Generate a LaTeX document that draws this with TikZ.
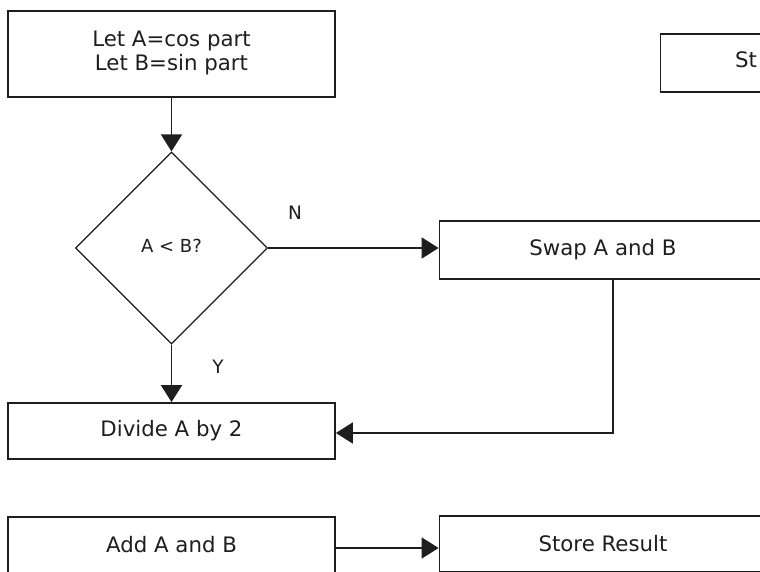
\documentclass[tikz,border=0pt]{standalone}
\usepackage{fontspec}
\setmainfont{DejaVu Sans}
\usetikzlibrary{shapes.geometric,arrows.meta}
\definecolor{ink}{HTML}{1E1E1E}
\tikzset{
  procbox/.style={draw=ink,line width=1.8pt,minimum width=327pt,inner sep=0pt,text=ink,font=\fontsize{21.3}{25}\selectfont,align=center},
  decision/.style={draw=ink,line width=1.2pt,shape=diamond,minimum width=192pt,minimum height=192pt,inner sep=0pt,text=ink,font=\fontsize{18}{20}\selectfont},
  flow/.style={draw=ink,line width=1.8pt,-{Triangle[length=17pt,width=21pt]}},
  lbl/.style={text=ink,font=\fontsize{18.5}{20}\selectfont,inner sep=0pt}
}
\begin{document}
\begin{tikzpicture}[x=1pt,y=-1pt]
\useasboundingbox (0,0) rectangle (760,572);
\clip (0,0) rectangle (760,572);
\fill[white] (0,0) rectangle (760,572);
\node[procbox,minimum height=86pt] (init) at (171.5,54) {\raisebox{3pt}{\begin{tabular}{@{}c@{}}Let A=cos part\\[-1pt]Let B=sin part\end{tabular}}};
\node[decision] (dec) at (171.5,248) {\raisebox{4pt}{A < B?}};
\node[procbox,minimum height=58pt] (swap) at (603,250) {\raisebox{3pt}{Swap A and B}};
\node[procbox,minimum height=56pt] (div) at (171.5,431) {Divide A by 2};
\node[procbox,minimum height=56pt] (add) at (171.5,545) {\raisebox{2pt}{Add A and B}};
\node[procbox,minimum height=56pt] (store) at (603,544) {\raisebox{2pt}{Store Result}};
\node[procbox,minimum height=58pt] (top) at (824,63) {};
\node[text=ink,font=\fontsize{21.3}{25}\selectfont,anchor=west,inner sep=0pt] (toptext) at (735,60) {St};
\node[lbl] (n) at (295,213) {N};
\node[lbl] (y) at (218,367) {Y};
\coordinate (sx) at (613,433);
\coordinate (ax) at (0,548);
\draw[flow] (init.south) -- (dec.north);
\draw[flow] (dec.south) -- (div.north);
\draw[flow] (dec.east) -- (swap.west |- dec.east);
\draw[flow] (swap.south -| sx) -- (sx) -- (div.east |- sx);
\draw[flow] (add.east |- ax) -- (store.west |- ax);
\end{tikzpicture}
\end{document}
